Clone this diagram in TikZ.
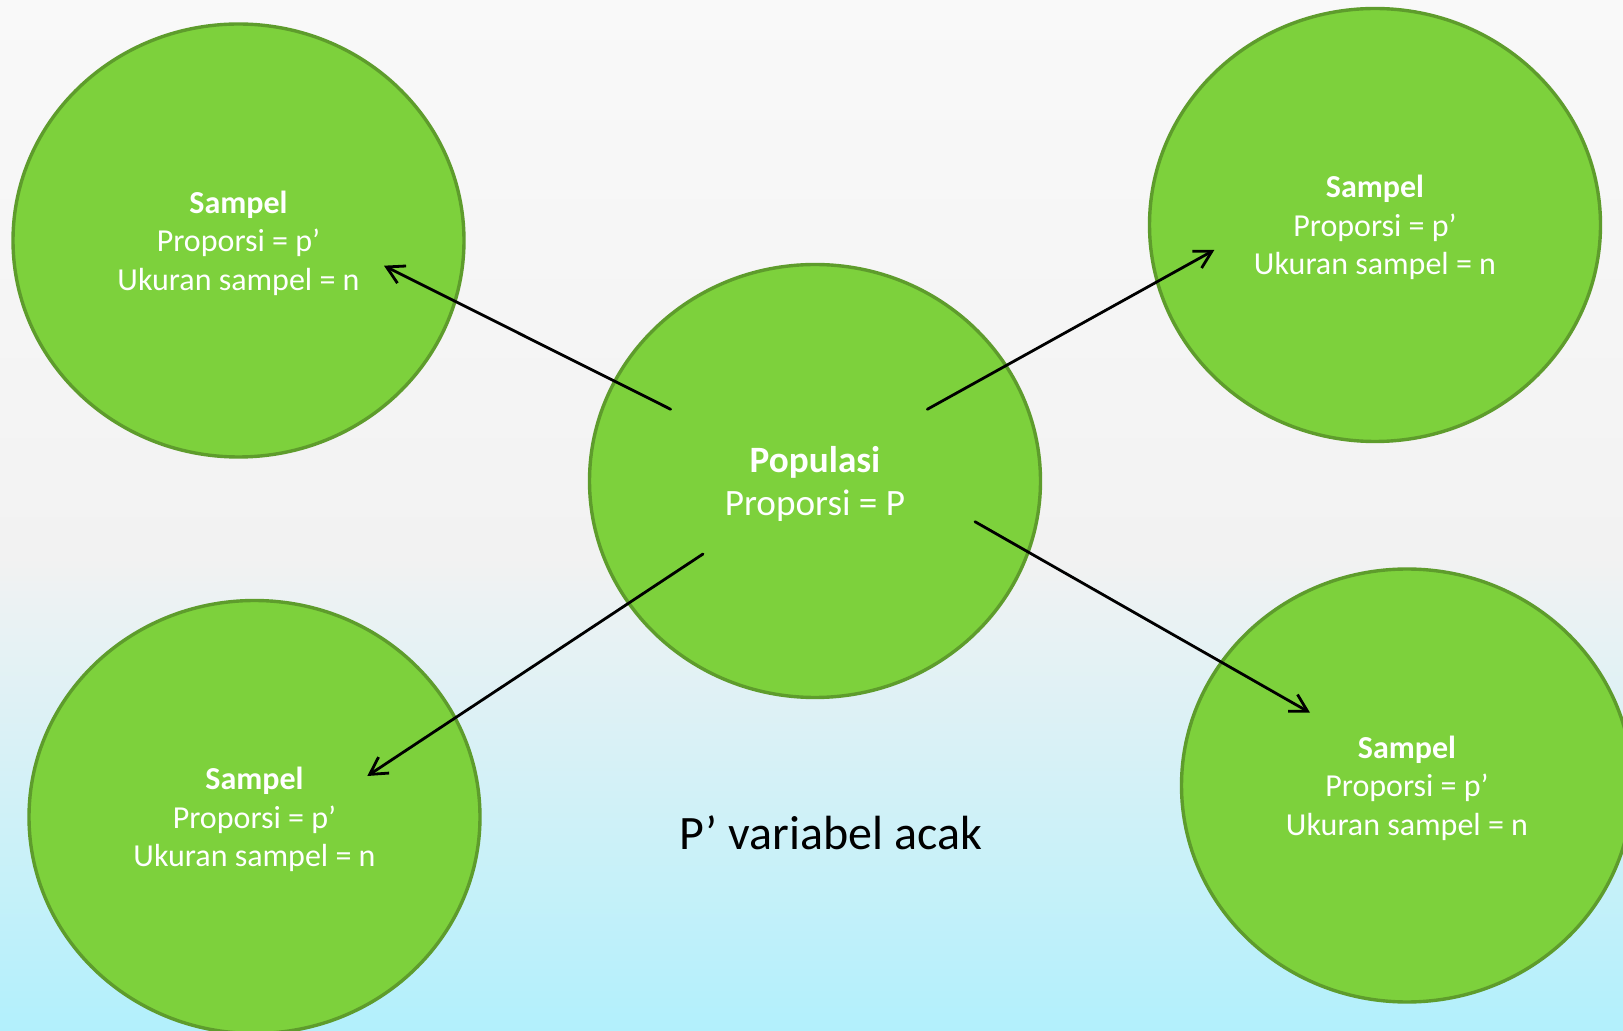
\documentclass[tikz,border=0pt]{standalone}
\usepackage{fontspec}
\setmainfont{Carlito}
\usepackage{tikz}
\usetikzlibrary{shapes,arrows.meta,calc}
\definecolor{bgtop}{HTML}{F9F9F9}
\definecolor{bgmid}{HTML}{F2F2F2}
\definecolor{bgbot}{HTML}{B2F0FC}
\definecolor{circfill}{HTML}{7DD13C}
\definecolor{circline}{HTML}{5E9C2C}
\pgfdeclareverticalshading{bgshade}{100bp}{color(0bp)=(bgbot); color(25bp)=(bgbot);
    color(48bp)=(bgmid); color(75bp)=(bgtop); color(100bp)=(bgtop)}
\newcommand{\rx}{225.5pt}
\newcommand{\ry}{216.5pt}
\tikzset{
    node style sm/.style={ellipse,draw=circline,fill=circfill,line width=1.7pt,
        minimum width=\rx,minimum height=\ry,inner sep=0pt,align=center,
        text=white,text depth=0pt,font=\fontsize{16}{19.25}\selectfont},
    node style pop/.style={node style sm,font=\fontsize{18.6}{21.7}\selectfont},
    arrow style smp/.style={draw,line width=1.4pt,line cap=round,
        -{Straight Barb[length=8.5pt,width=9.6pt]}},
}

\begin{document}
\begin{tikzpicture}[x=0.5pt,y=-0.5pt]
   \useasboundingbox (0,0) rectangle (1623,1031);
   \shade[shading=bgshade] (0,0) rectangle (1623,1031);

   % populasi and the four samples
   \node [node style pop] (pop) at (815,481) {\textbf{Populasi}\\Proporsi = P};
   \node [node style sm] (sTL) at (238.5,240.5) {\textbf{Sampel}\\Proporsi = p’\\Ukuran sampel = n};
   \node [node style sm] (sTR) at (1375,225) {\textbf{Sampel}\\Proporsi = p’\\Ukuran sampel = n};
   \node [node style sm] (sBL) at (254.5,817) {\textbf{Sampel}\\Proporsi = p’\\Ukuran sampel = n};
   \node [node style sm] (sBR) at (1407,785.5) {\textbf{Sampel}\\Proporsi = p’\\Ukuran sampel = n};

   \node [font=\fontsize{24}{28}\selectfont] (acak) at (831,833) {P’ variabel acak};

   % arrow ends
   \coordinate (pTL) at (670.7,409.3);
   \coordinate (pTR) at (927.3,409.3);
   \coordinate (pBL) at (703,554);
   \coordinate (pBR) at (975,521.7);
   \coordinate (eTL) at (384,265.7);
   \coordinate (eTR) at (1214.3,250);
   \coordinate (eBL) at (367.3,776);
   \coordinate (eBR) at (1310,712.7);

   \draw [arrow style smp] (pTL) -- (eTL);
   \draw [arrow style smp] (pTR) -- (eTR);
   \draw [arrow style smp] (pBL) -- (eBL);
   \draw [arrow style smp] (pBR) -- (eBR);
\end{tikzpicture}
\end{document}
